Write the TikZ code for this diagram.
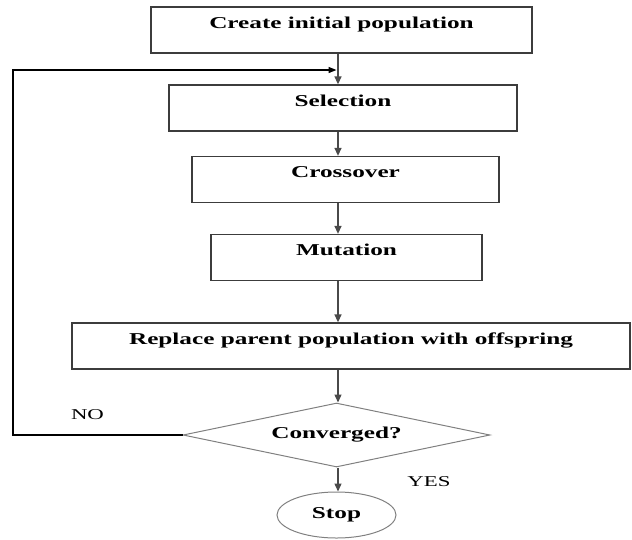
\documentclass[tikz,border=0pt]{standalone}
\usepackage{fontspec}
\setmainfont{Liberation Serif}[FakeStretch=1.52]
\usepackage{xcolor}
\usepackage{tikz}
\usetikzlibrary{arrows.meta,shapes.geometric}
\definecolor{boxline}{HTML}{3C3C3C}
\definecolor{thinline}{HTML}{808080}
\definecolor{wire}{HTML}{4A4A4A}
\tikzset{
  stage/.style={draw=boxline, line width=1.3pt, inner sep=0pt, text height=21pt, text depth=25pt, font=\fontsize{16.6}{18}\selectfont\bfseries},
  test/.style={diamond, aspect=4.8, draw=thinline, line width=1pt, inner sep=0pt, minimum width=307pt, minimum height=64pt, font=\fontsize{16.6}{18}\selectfont\bfseries},
  halt/.style={ellipse, draw=thinline, line width=1pt, inner sep=0pt, minimum width=119pt, minimum height=46pt, font=\fontsize{16.6}{18}\selectfont\bfseries},
  flow/.style={-{Triangle[length=8pt,width=7pt]}, line width=1.3pt, draw=wire},
  back/.style={-{Triangle[length=8pt,width=6pt]}, line width=1.4pt, black},
  tag/.style={font=\fontsize{15}{17}\selectfont, inner sep=0pt},
}
\newcommand{\flowbox}[5]{\node[stage, minimum width=#4pt] (#1) at (#2,-#3) {#5};}
\newcommand{\link}[2]{\draw[flow] (#1.south -| col) -- (#2.north -| col);}

\begin{document}
\begin{tikzpicture}[x=1pt,y=1pt]
  \useasboundingbox (0,0) rectangle (632,-539);
  \coordinate (col) at (338,0);
  \flowbox{init}{341.5}{30}{381}{Create initial population}
  \flowbox{sel}{343}{108}{348}{Selection}
  \flowbox{cross}{345.5}{179.5}{307}{Crossover}
  \flowbox{mut}{346.5}{257.5}{271}{Mutation}
  \flowbox{repl}{351}{346}{558}{Replace parent population with offspring}
  \node[test] (conv) at (336.5,-435) {Converged?};
  \node[halt] (stop) at (336.5,-515) {Stop};
  \link{init}{sel}
  \link{sel}{cross}
  \link{cross}{mut}
  \link{mut}{repl}
  \link{repl}{conv}
  \link{conv}{stop}
  % loop back when not converged
  \coordinate (join) at (336.5,-70);
  \coordinate (corner) at (13,-70);
  \draw[back] (conv.west) -| (corner) -- (join);
  \node[tag] (no) at (87.5,-415) {NO};
  \node[tag] (yes) at (429,-482) {YES};
\end{tikzpicture}
\end{document}
